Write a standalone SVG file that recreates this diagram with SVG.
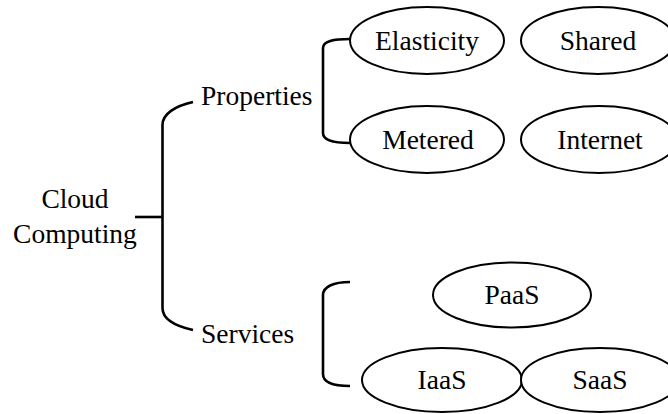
<svg xmlns="http://www.w3.org/2000/svg" width="668" height="414" viewBox="0 0 668 414" font-family="Liberation Serif, serif" font-size="27.5">
<style>
.c{text-anchor:middle}
ellipse{fill:#fff;stroke:#000;stroke-width:2}
.br{fill:none;stroke:#000;stroke-width:2.6}
</style>
<rect width="668" height="414" fill="#fff"/>
<g id="connectors">
<path class="br" d="M135,217 L162.5,217"/>
<path class="br" d="M193,102 C175,106 162.5,114 162.5,125 L162.5,308 C162.5,319 175,326 193,330"/>
<path class="br" d="M350,39 C333,39 323,41 323,48 L323,133 C323,140 333,143 350,143"/>
<path class="br" d="M350,282 C333,282 323,287 323,295 L323,374 C323,382 333,386 350,386"/>
</g>
<g id="cloud"><text class="c" x="75" y="208">Cloud</text><text class="c" x="75" y="243">Computing</text></g>
<g id="properties"><text x="201" y="105">Properties</text></g>
<g id="services"><text x="201" y="343">Services</text></g>
<g id="elasticity"><ellipse cx="427" cy="40.5" rx="77" ry="33.5"/><text class="c" x="427" y="49.5">Elasticity</text></g>
<g id="shared"><ellipse cx="598" cy="40.5" rx="77" ry="33.5"/><text class="c" x="598" y="49.5">Shared</text></g>
<g id="metered"><ellipse cx="427" cy="139.5" rx="77" ry="33.5"/><text class="c" x="428" y="148.5">Metered</text></g>
<g id="internet"><ellipse cx="599" cy="139.5" rx="78" ry="33.5"/><text class="c" x="600" y="148.5">Internet</text></g>
<g id="paas"><ellipse cx="512" cy="295" rx="79" ry="32.5"/><text class="c" x="512" y="304">PaaS</text></g>
<g id="iaas"><ellipse cx="442" cy="380" rx="80" ry="32"/><text class="c" x="442" y="389">IaaS</text></g>
<g id="saas"><ellipse cx="600" cy="380" rx="79" ry="32"/><text class="c" x="600" y="389">SaaS</text></g>
</svg>
